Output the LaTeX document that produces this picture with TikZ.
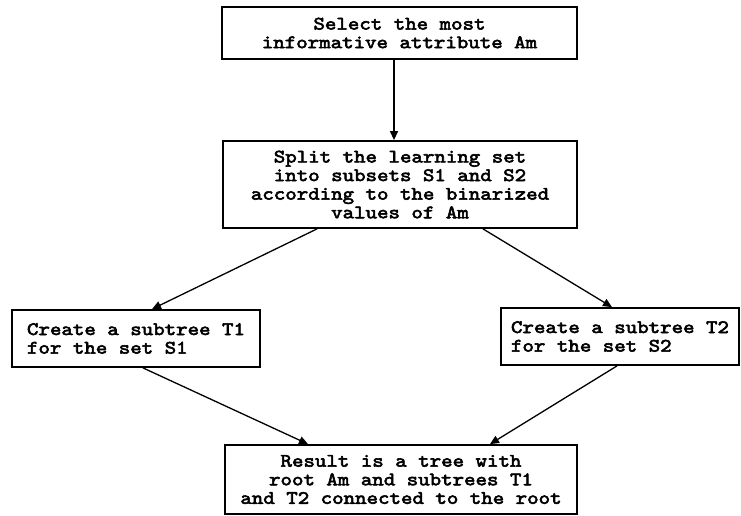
\documentclass[tikz,border=0pt]{standalone}
\usepackage{fontspec}
\newfontfamily\cour{lmmono10-regular.otf}[FakeBold=3,FakeStretch=1.15]
\usetikzlibrary{arrows.meta}
\begin{document}
\begin{tikzpicture}[x=1pt,y=-1pt,
  box/.style={draw,line width=1.8pt,inner sep=0pt,rectangle,
    font=\cour\fontsize{19}{18.6}\selectfont},
  conn/.style={line width=1.3pt,-{Triangle[length=9pt,width=8pt]}}]
\useasboundingbox[fill=white] (0,0) rectangle (741,516);
\node[box,minimum width=355pt,minimum height=52pt,align=center] (b1) at (399.5,33)
  {Select the most\\informative attribute Am};
\node[box,minimum width=354pt,minimum height=87pt,align=center] (b2) at (400,184.5)
  {Split the learning set\\into subsets S1 and S2\\according to the binarized\\values of Am};
\node[box,minimum width=248pt,minimum height=57pt,align=left] (t1) at (136,338.5)
  {Create a subtree T1\\for the set S1};
\node[box,minimum width=238pt,minimum height=57pt,align=left] (t2) at (620,336.5)
  {Create a subtree T2\\for the set S2};
\node[box,minimum width=352pt,minimum height=69pt,align=center] (b4) at (401,479.5)
  {Result is a tree with\\root Am and subtrees T1\\and T2 connected to the root};
\draw[conn] ([xshift=-5.5pt]b1.south) -- ([xshift=-6pt]b2.north);
\draw[conn] ([xshift=-83pt]b2.south) -- ([xshift=16pt]t1.north);
\draw[conn] ([xshift=83pt]b2.south) -- ([xshift=-8pt]t2.north);
\draw[conn] ([xshift=7pt]t1.south) -- ([xshift=-93pt]b4.north);
\draw[conn] ([xshift=-3pt]t2.south) -- ([xshift=89pt]b4.north);
\end{tikzpicture}
\end{document}
